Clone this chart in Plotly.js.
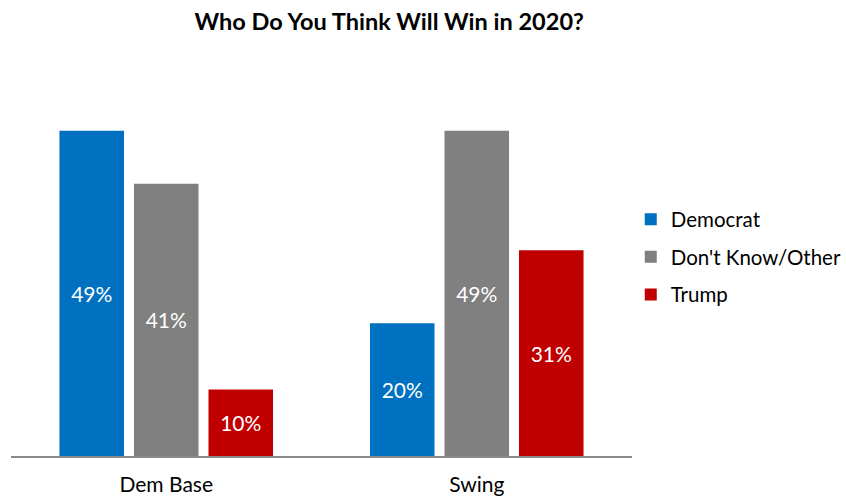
<!DOCTYPE html>
<html>
<head>
<meta charset="utf-8">
<script src="https://cdn.plot.ly/plotly-3.0.1.min.js"></script>
<style>html,body{margin:0;padding:0;background:#fff;}#chart{width:846px;height:498px;}</style>
</head>
<body>
<div id="chart"></div>
<script>
const categories = ["Dem Base", "Swing"];
const seriesNames = ["Democrat", "Don't Know/Other", "Trump"];
const democrat = [49, 20];
const dontKnow = [41, 49];
const trump = [10, 31];
const colors = ["#0070C0", "#808080", "#C00000"];
const FONT = "Lato, 'Liberation Sans', sans-serif";

const values = [democrat, dontKnow, trump];
const traces = values.map((v, i) => ({
  type: "bar",
  name: seriesNames[i],
  x: categories,
  y: v,
  marker: {color: colors[i]},
  text: v.map(d => d + "%"),
  textposition: "inside",
  insidetextanchor: "middle",
  textangle: 0,
  textfont: {color: "#ffffff", size: 21, family: FONT},
  legendgroup: "g" + i,
  hoverinfo: "none"
}));

const layout = {
  width: 846,
  height: 498,
  margin: {l: 11, r: 214, t: 124, b: 42, autoexpand: false},
  paper_bgcolor: "#ffffff",
  plot_bgcolor: "#ffffff",
  barmode: "group",
  bargap: 0.28,
  bargroupgap: 0.134,
  font: {family: FONT, color: "#000000"},
  title: {
    text: "<b>Who Do You Think Will Win in 2020?</b>",
    font: {size: 23.5, family: FONT, color: "#000000"},
    xref: "container", x: 0.46, xanchor: "center",
    yref: "container", y: 0.956, yanchor: "middle"
  },
  xaxis: {
    showline: true, linecolor: "#898989", linewidth: 1.5,
    ticks: "", showgrid: false, zeroline: false,
    tickfont: {size: 21, family: FONT, color: "#000000"},
    ticklabelstandoff: 9
  },
  yaxis: {
    range: [0, 50], visible: false, showgrid: false, zeroline: false
  },
  legend: {
    x: 0.998, xanchor: "left", y: 0.6, yanchor: "middle",
    font: {size: 20.5, family: FONT, color: "#000000"},
    traceorder: "grouped", tracegroupgap: 8,
    itemwidth: 30
  },
  showlegend: true
};

Plotly.newPlot("chart", traces, layout, {displayModeBar: false, staticPlot: true});
</script>
</body>
</html>
